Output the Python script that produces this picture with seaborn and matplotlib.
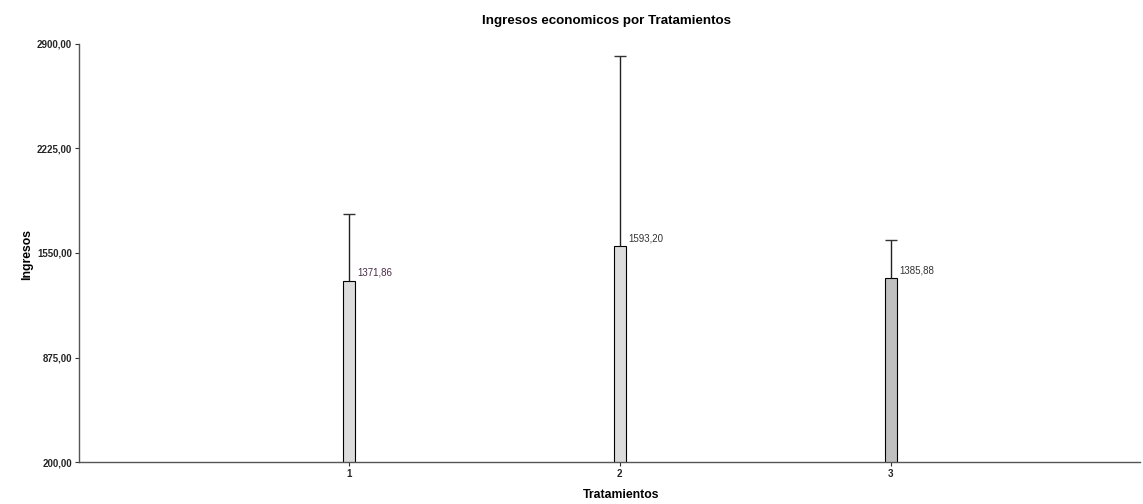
import matplotlib
matplotlib.use("Agg")
import matplotlib.pyplot as plt
import seaborn as sns
import pandas as pd

categories = ["1", "2", "3"]
means = [1371.86, 1593.20, 1385.88]
upper = [1802, 2823, 1634]
bar_colors = ["#dcdcdc", "#dcdcdc", "#c0c0c0"]
yticks = [200, 875, 1550, 2225, 2900]

sns.set_style("white")
plt.rcParams['font.family'] = ['Liberation Sans', 'DejaVu Sans']

fig = plt.figure(figsize=(11.43, 5.04), dpi=100)
ax = fig.add_axes([79/1143, 1 - 462/504, (1140-79)/1143, (462-44)/504])

df = pd.DataFrame({"Tratamientos": categories, "Ingresos": means})
bar_w = 0.044
sns.barplot(data=df, x="Tratamientos", y="Ingresos", hue="Tratamientos",
            palette=bar_colors, width=bar_w, edgecolor="black", linewidth=0.8,
            legend=False, ax=ax, errorbar=None, zorder=2)

xs = list(range(len(categories)))
ax.vlines(xs, means, upper, colors="#222222", linewidth=1.0, zorder=3)
ax.hlines(upper, [x - bar_w/2 for x in xs], [x + bar_w/2 for x in xs],
          colors="#333333", linewidth=1.0, zorder=3)

label_colors = ["#4a2d4a", "#333333", "#333333"]
for x, m, c in zip(xs, means, label_colors):
    ax.annotate(f"{m:.2f}".replace(".", ","), (x, m), xytext=(6, 2),
                textcoords="offset points", fontsize=7, color=c, ha="left", va="bottom")

ax.set_ylim(200, 2900)
ax.set_xlim(-0.996, 2.92)
ax.set_yticks(yticks)
ax.set_yticklabels([f"{v:.2f}".replace(".", ",") for v in yticks], fontsize=7, fontweight="bold")
ax.set_xticks(xs)
ax.set_xticklabels(categories, fontsize=7, fontweight="bold")
ax.tick_params(axis="both", length=3, width=0.8, color="#333333", pad=2, direction="out")
ax.tick_params(left=True, bottom=True)

for s in ["top", "right"]:
    ax.spines[s].set_visible(False)
for s in ["left", "bottom"]:
    ax.spines[s].set_color("#555555")
    ax.spines[s].set_linewidth(1.0)

ax.set_xlabel("Tratamientos", fontsize=8.8, fontweight="bold", color="black")
ax.xaxis.set_label_coords((621 - 79) / 1061, -(489 - 462) / 418)
ax.set_ylabel("Ingresos", fontsize=8.8, fontweight="bold", color="black")
ax.yaxis.set_label_coords(-(79 - 33) / 1061, (462 - 255) / 418)
fig.text(606/1143, 1 - 21/504, "Ingresos economicos por Tratamientos", ha="center", va="center",
         fontsize=9.6, fontweight="bold", color="black")

fig.savefig("out.png", dpi=100)
